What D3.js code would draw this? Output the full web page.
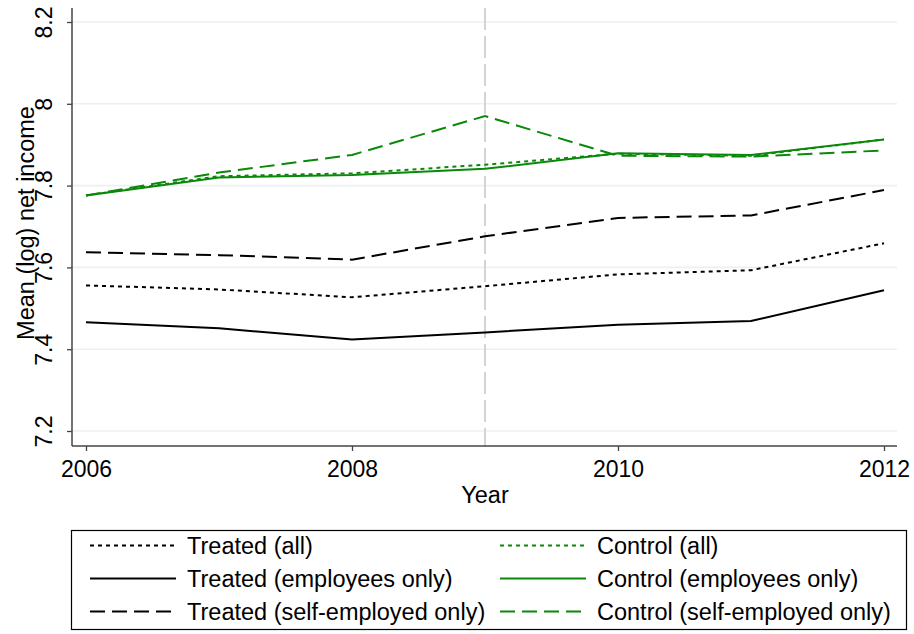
<!DOCTYPE html>
<html><head><meta charset="utf-8">
<script src="https://cdn.jsdelivr.net/npm/d3@7"></script>
<style>body{margin:0;background:#fff}text{font-family:"Liberation Sans",Arial,sans-serif}</style>
</head><body><svg id="c" width="914" height="634"></svg>
<script>
const years = [2006, 2007, 2008, 2009, 2010, 2011, 2012];
const treatedAll = [7.556, 7.546, 7.527, 7.554, 7.583, 7.593, 7.659];
const treatedEmp = [7.466, 7.451, 7.424, 7.441, 7.460, 7.469, 7.544];
const treatedSelf = [7.637, 7.630, 7.619, 7.676, 7.721, 7.727, 7.789];
const controlAll = [7.776, 7.823, 7.830, 7.851, 7.878, 7.873, 7.913];
const controlEmp = [7.776, 7.820, 7.826, 7.841, 7.879, 7.875, 7.913];
const controlSelf = [7.776, 7.832, 7.875, 7.970, 7.873, 7.871, 7.886];
const yTicks = [7.2, 7.4, 7.6, 7.8, 8, 8.2];
const xTicks = [2006, 2008, 2010, 2012];
const treatYear = 2009;

const GREEN = "#0a880a";
const series = [
  {name:"Treated (all)", vals:treatedAll, color:"#000", dash:"4,4"},
  {name:"Control (all)", vals:controlAll, color:GREEN, dash:"4,4"},
  {name:"Treated (employees only)", vals:treatedEmp, color:"#000", dash:null},
  {name:"Control (employees only)", vals:controlEmp, color:GREEN, dash:null},
  {name:"Treated (self-employed only)", vals:treatedSelf, color:"#000", dash:"15,7"},
  {name:"Control (self-employed only)", vals:controlSelf, color:GREEN, dash:"15,7"}
];

const svg = d3.select("#c");
const x = d3.scaleLinear().domain([2006, 2012]).range([86, 884]);
const y = d3.scaleLinear().domain([7.2, 8.2]).range([431, 22]);
const pLeft = 72, pRight = 897, pTop = 8, pBottom = 446;

// gridlines
svg.append("g").selectAll("line").data(yTicks).join("line")
  .attr("x1", pLeft).attr("x2", pRight)
  .attr("y1", d => y(d)).attr("y2", d => y(d))
  .attr("stroke", "#eaf1f3").attr("stroke-width", 1.6);

// vertical reference line
svg.append("line").attr("x1", x(treatYear)).attr("x2", x(treatYear))
  .attr("y1", pTop).attr("y2", pBottom)
  .attr("stroke", "#d4d4d4").attr("stroke-width", 2).attr("stroke-dasharray", "22,6");

// y axis
const yAx = svg.append("g").attr("transform", `translate(${pLeft},0)`)
  .call(d3.axisLeft(y).tickValues(yTicks).tickSize(5).tickFormat(d3.format("~g")));
yAx.select(".domain").remove();
yAx.append("line").attr("x1",0).attr("x2",0).attr("y1",pTop).attr("y2",pBottom).attr("stroke","#444").attr("stroke-width",1.5);
yAx.selectAll(".tick line").attr("stroke","#444").attr("stroke-width",1.3);
yAx.selectAll(".tick text").attr("transform", "rotate(-90)")
  .attr("x", 0).attr("y", -20).attr("dy", 0).attr("text-anchor", "middle")
  .attr("font-size", 23).attr("fill", "#000");

// x axis
const xAx = svg.append("g").attr("transform", `translate(0,${pBottom})`)
  .call(d3.axisBottom(x).tickValues(xTicks).tickSize(5).tickFormat(d3.format("d")));
xAx.select(".domain").remove();
xAx.append("line").attr("x1",pLeft).attr("x2",pRight).attr("y1",0).attr("y2",0).attr("stroke","#444").attr("stroke-width",1.5);
xAx.selectAll(".tick line").attr("stroke","#444").attr("stroke-width",1.3);
xAx.selectAll(".tick text").attr("y", 31).attr("dy", 0).attr("font-size", 23).attr("fill", "#000");

// axis titles
svg.append("text").attr("x", 485).attr("y", 503).attr("text-anchor","middle").attr("font-size",23.5).text("Year");
svg.append("text").attr("transform","translate(34,223) rotate(-90)").attr("text-anchor","middle").attr("font-size",23.5).text("Mean (log) net income");

// lines
const line = d3.line().x((d,i) => x(years[i])).y(d => y(d));
svg.append("g").selectAll("path").data(series).join("path")
  .attr("d", d => line(d.vals)).attr("fill","none")
  .attr("stroke", d => d.color).attr("stroke-width", 2)
  .attr("stroke-dasharray", d => d.dash);

// legend
const lg = svg.append("g");
lg.append("rect").attr("x",71.5).attr("y",530.5).attr("width",835).attr("height",99)
  .attr("fill","#fff").attr("stroke","#000").attr("stroke-width",1.2);
const items = lg.selectAll("g.it").data(series).join("g").attr("class","it")
  .attr("transform", (d,i) => `translate(${i%2===0 ? 90 : 500},${554 + Math.floor(i/2)*33})`);
items.append("line").attr("x1",0).attr("x2",86).attr("y1",-8.5).attr("y2",-8.5)
  .attr("stroke", d=>d.color).attr("stroke-width",2).attr("stroke-dasharray", d=>d.dash);
items.append("text").attr("x",97).attr("y",0).attr("font-size",23.5).text(d=>d.name);
</script></body></html>
